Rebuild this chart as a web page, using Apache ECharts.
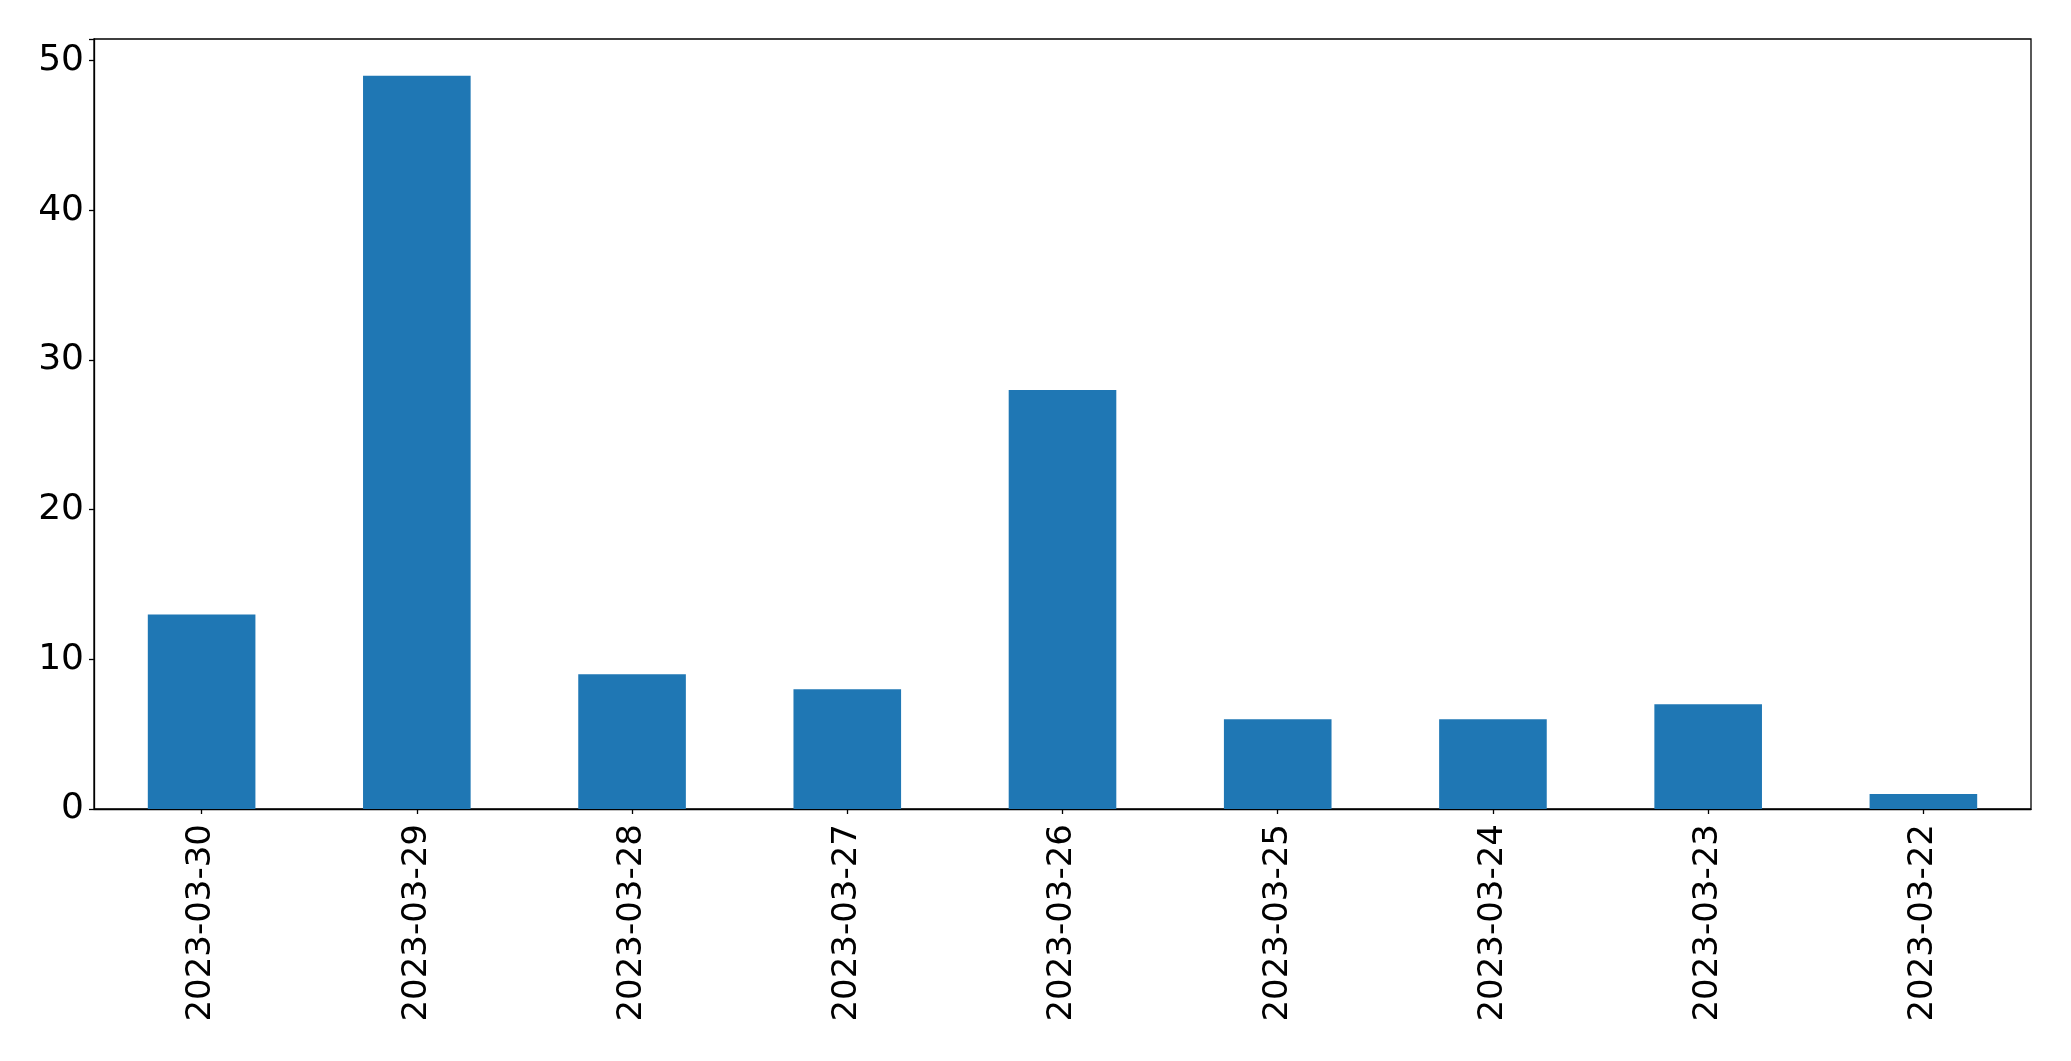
<!DOCTYPE html>
<html>
<head>
<meta charset="utf-8">
<script src="https://cdn.jsdelivr.net/npm/echarts@6/dist/echarts.min.js"></script>
<style>html,body{margin:0;padding:0;background:#fff}#c{width:2071px;height:1061px}</style>
</head>
<body>
<div id="c"></div>
<script>
const categories = ["2023-03-30","2023-03-29","2023-03-28","2023-03-27","2023-03-26","2023-03-25","2023-03-24","2023-03-23","2023-03-22"];
const values = [13, 49, 9, 8, 28, 6, 6, 7, 1];
const yTicks = [0, 10, 20, 30, 40, 50];

const chart = echarts.init(document.getElementById('c'), null, {renderer: 'canvas'});
const font = '"DejaVu Sans", sans-serif';
chart.setOption({
  animation: false,
  backgroundColor: '#ffffff',
  grid: {left: 94, right: 40, top: 39, bottom: 252, show: true, borderColor: '#000', borderWidth: 1.3, containLabel: false},
  xAxis: {
    type: 'category',
    data: categories,
    boundaryGap: true,
    axisLine: {show: true, lineStyle: {color: '#000', width: 1.3}},
    axisTick: {show: true, alignWithLabel: true, length: 5, lineStyle: {color: '#000', width: 1.3}},
    axisLabel: {rotate: 90, margin: 15, color: '#000', fontSize: 34, fontFamily: font, interval: 0}
  },
  yAxis: {
    type: 'value',
    min: 0,
    max: 51.45,
    interval: 10,
    splitLine: {show: false},
    axisLine: {show: true, lineStyle: {color: '#000', width: 1.3}},
    axisTick: {show: true, length: 5, lineStyle: {color: '#000', width: 1.3}},
    axisLabel: {color: '#000', fontSize: 36, fontFamily: font, margin: 10,
      formatter: v => yTicks.includes(v) ? String(v) : ''}
  },
  series: [{
    type: 'bar',
    data: values,
    barWidth: '50%',
    itemStyle: {color: '#1f77b4'}
  }]
});
</script>
</body>
</html>
